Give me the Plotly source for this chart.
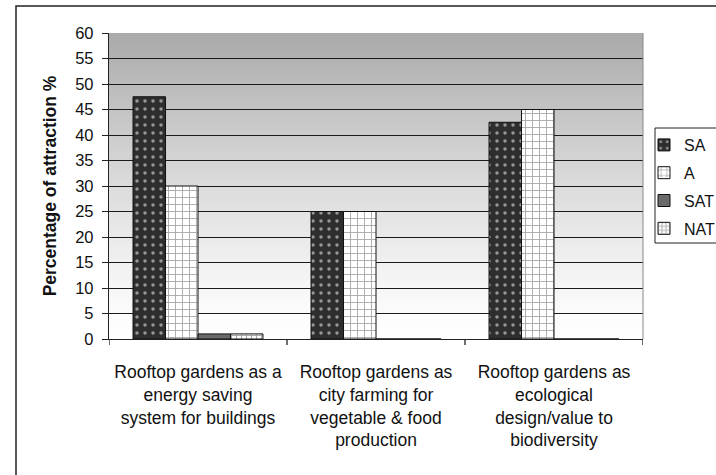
import plotly.graph_objects as go

categories = [
    "Rooftop gardens as a<br>energy saving<br>system for buildings",
    "Rooftop gardens as<br>city farming for<br>vegetable & food<br>production",
    "Rooftop gardens as<br>ecological<br>design/value to<br>biodiversity",
]
series_names = ["SA", "A", "SAT", "NAT"]
sa_values = [47.5, 25, 42.5]
a_values = [30, 25, 45]
sat_values = [1, 0, 0]
nat_values = [1, 0, 0]
y_ticks = list(range(0, 61, 5))

fig = go.Figure()
styles = [
    dict(color="#2e2e2e", pattern=dict(shape=".", fgcolor="#ffffff", bgcolor="#2e2e2e", size=8, solidity=0.15)),
    dict(color="#ffffff", pattern=dict(shape="+", fgcolor="#555555", bgcolor="#ffffff", size=7, solidity=0.25)),
    dict(color="#6a6a6a", pattern=dict(shape="")),
    dict(color="#ffffff", pattern=dict(shape="+", fgcolor="#555555", bgcolor="#ffffff", size=5, solidity=0.4)),
]
for name, vals, st in zip(series_names, [sa_values, a_values, sat_values, nat_values], styles):
    fig.add_trace(go.Bar(
        x=categories, y=vals, name=name, legendgroup=name,
        marker=dict(color=st["color"], pattern=st["pattern"], line=dict(color="#111111", width=1)),
    ))

L, R, T, B = 109, 643, 33, 339
W, H = R - L, B - T

# gradient background of plot area (layout decoration)
n = 100
shapes = []
for i in range(n):
    t = i / (n - 1)
    v = int(round(255 - (255 - 170) * t ** 1.25))
    shapes.append(dict(type="rect", xref="paper", yref="paper", x0=0, x1=1,
                       y0=i / n, y1=min(1, (i + 1.6) / n), fillcolor=f"rgb({v},{v},{v})",
                       line=dict(width=0), layer="below"))
# right edge of plot area
shapes.append(dict(type="line", xref="paper", yref="paper", x0=1, x1=1, y0=0, y1=1,
                   line=dict(color="#888888", width=1)))
# short category-boundary ticks on the x axis
for k in range(len(categories) + 1):
    shapes.append(dict(type="line", xref="x", yref="paper", x0=k - 0.5, x1=k - 0.5,
                       y0=0, y1=-6 / H, line=dict(color="#222222", width=1.3)))
# outer frame
shapes.append(dict(type="rect", xref="paper", yref="paper",
                   x0=(16 - L) / W, x1=(730 - L) / W,
                   y0=(B - 490) / H, y1=(B - 6) / H,
                   line=dict(color="#222222", width=1.5), layer="above"))
# legend frame
shapes.append(dict(type="rect", xref="paper", yref="paper",
                   x0=(655 - L) / W, x1=(730 - L) / W,
                   y0=(B - 243) / H, y1=(B - 128) / H,
                   line=dict(color="#222222", width=1), fillcolor="white", layer="below"))

fig.update_layout(
    width=716, height=475,
    margin=dict(l=L, r=716 - R, t=T, b=475 - B, autoexpand=False),
    paper_bgcolor="white", plot_bgcolor="rgba(0,0,0,0)",
    barmode="group", bargap=0.27, bargroupgap=0,
    font=dict(family="Liberation Sans, Arial", color="#111111"),
    shapes=shapes,
    showlegend=True,
    legend=dict(x=(644 - L) / W, y=(B - 128) / H, xanchor="left", yanchor="top",
                borderwidth=0, bgcolor="rgba(0,0,0,0)",
                font=dict(size=16, color="#111111"), tracegroupgap=4),
)
fig.update_yaxes(
    range=[0, 60], tickvals=y_ticks, showgrid=True, gridcolor="#1a1a1a", gridwidth=1.4,
    showline=True, linecolor="#222222", linewidth=1.3, ticks="outside", ticklen=6,
    tickcolor="#222222", tickfont=dict(size=16.5), zeroline=False, ticklabelstandoff=5,
    title=dict(text="<b>Percentage of attraction %</b>", font=dict(size=17.5), standoff=14),
)
fig.update_xaxes(
    showline=True, linecolor="#222222", linewidth=1.3, ticks="",
    tickfont=dict(size=17.5), range=[-0.5, 2.5],
    showgrid=False, tickangle=0, ticklabelstandoff=17,
)
fig.write_html("out.html", config={"displayModeBar": False},
               post_script="document.body.style.margin='0';")
